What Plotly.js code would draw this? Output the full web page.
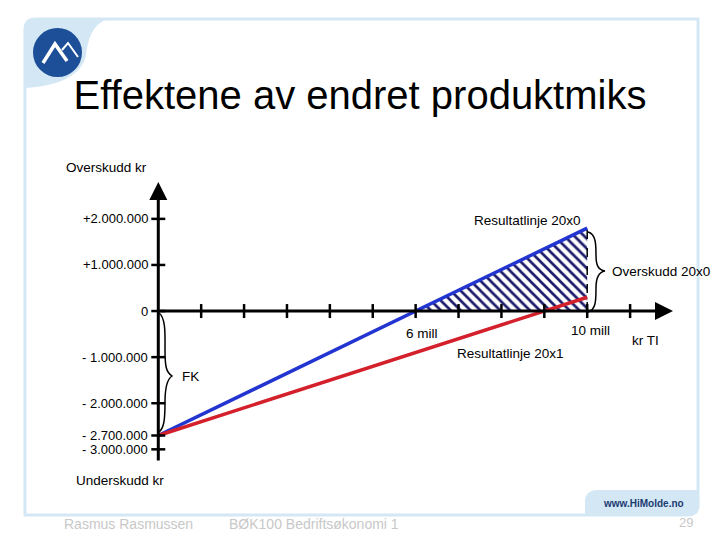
<!DOCTYPE html>
<html>
<head>
<meta charset="utf-8">
<script src="https://cdn.plot.ly/plotly-3.0.1.min.js"></script>
<style>
html,body{margin:0;padding:0;background:#fff;}
#chart{width:720px;height:540px;}
</style>
</head>
<body>
<div id="chart"></div>
<script>
// ---- data ----
const tiMill = [0, 10];                 // total revenue (mill kr)
const blueResult = [-2.7, 1.8];         // Resultatlinje 20x0 (mill kr)
const redResult = [-2.7, 0.3];          // Resultatlinje 20x1 (mill kr)
const breakEven20x0 = 6;                // mill kr
const xTickVals = [1,2,3,4,5,6,7,8,9,10,11];
const yTickVals = [2, 1, 0, -1, -2, -2.7, -3];
const yTickText = ['+2.000.000', '+1.000.000', '0', '- 1.000.000', '- 2.000.000', '- 2.700.000', '- 3.000.000'];
const xLabelVals = [6, 10];
const xLabelText = ['6 mill', '10 mill'];

// ---- geometry helpers (layout only) ----
const L = 154, R = 673, T = 182, B = 462;
const XR = [-0.1, 12], YR = [-3.275, 2.8];
const px2x = p => XR[0] + (p - L) / (R - L) * (XR[1] - XR[0]);
const px2y = p => YR[1] - (p - T) / (B - T) * (YR[1] - YR[0]);
const pX = p => (p - L) / (R - L);
const pY = p => (B - p) / (B - T);
function pp(cmds){ // pixel path -> paper path
  return cmds.map(c => {
    const out=[c[0]];
    for(let i=1;i<c.length;i+=2){ out.push(pX(c[i]).toFixed(4)+','+pY(c[i+1]).toFixed(4)); }
    return out.join(' ');
  }).join(' ') ;
}
function pd(cmds){ // pixel path -> data path
  return cmds.map(c => {
    const out=[c[0]];
    for(let i=1;i<c.length;i+=2){ out.push(px2x(c[i]).toFixed(4)+','+px2y(c[i+1]).toFixed(4)); }
    return out.join(' ');
  }).join(' ');
}

const font = 'Liberation Sans, Arial, sans-serif';
const blueAt10 = blueResult[1];

const traces = [
  { // hatched surplus area
    x: [breakEven20x0, tiMill[1], tiMill[1]],
    y: [0, blueAt10, 0],
    mode: 'lines', fill: 'toself', line: {width: 0, color: 'rgba(0,0,0,0)'},
    fillcolor: 'white',
    fillpattern: {shape: '\\', fgcolor: '#1d1b6b', bgcolor: 'white', size: 7, solidity: 0.38},
    hoverinfo: 'skip', showlegend: false
  },
  { // dashed vertical at 10 mill
    x: [tiMill[1], tiMill[1]], y: [0, blueAt10],
    mode: 'lines', line: {color: '#000', width: 1.5, dash: 'dash'},
    hoverinfo: 'skip', showlegend: false
  },
  {
    x: tiMill, y: blueResult, mode: 'lines',
    line: {color: '#2335d0', width: 3.5}, showlegend: false, cliponaxis: false
  },
  {
    x: tiMill, y: redResult, mode: 'lines',
    line: {color: '#d3202b', width: 3.5}, showlegend: false, cliponaxis: false
  },
  { // x tick marks
    x: xTickVals, y: xTickVals.map(() => 0), mode: 'markers',
    marker: {symbol: 'line-ns', size: 10, line: {width: 2.5, color: '#000'}},
    hoverinfo: 'skip', showlegend: false, cliponaxis: false
  },
  { // y tick marks
    x: yTickVals.map(() => 0), y: yTickVals, mode: 'markers',
    marker: {symbol: 'line-ew', size: 10, line: {width: 2.5, color: '#000'}},
    hoverinfo: 'skip', showlegend: false, cliponaxis: false
  }
];

const frameColor = '#d3e8f4';
const shapes = [
  { // slide frame
    type: 'path', xref: 'paper', yref: 'paper',
    path: pp([['M',25,30],['Q',25,19,36,19],['L',698,19],['L',698,505],['Q',698,515,688,515],['L',25,515],['Z']]),
    line: {color: frameColor, width: 3}, fillcolor: 'rgba(0,0,0,0)', layer: 'below'
  },
  { // top-left swoosh
    type: 'path', xref: 'paper', yref: 'paper',
    path: pp([['M',25,30],['Q',25,19,36,19],['L',108,19],['C',92,24,88,40,86,55],['C',82,75,60,86,25,88],['Z']]),
    line: {width: 0}, fillcolor: frameColor, layer: 'below'
  },
  { // bottom-right tab
    type: 'path', xref: 'paper', yref: 'paper',
    path: pp([['M',585,515],['L',585,502],['Q',585,490,598,490],['L',698,490],['L',698,505],['Q',698,515,688,515],['Z']]),
    line: {width: 0}, fillcolor: frameColor, layer: 'below'
  },
  { // logo circle
    type: 'circle', xref: 'paper', yref: 'paper',
    x0: pX(33), x1: pX(82), y0: pY(77), y1: pY(28),
    line: {width: 0}, fillcolor: '#1d4e98', layer: 'above'
  },
  { // logo mountain
    type: 'path', xref: 'paper', yref: 'paper',
    path: pp([['M',43,63],['L',55,44],['L',67,61]]),
    line: {color: 'white', width: 3.5}, layer: 'above'
  },
  {
    type: 'path', xref: 'paper', yref: 'paper',
    path: pp([['M',62,50],['L',68,43],['L',78,57]]),
    line: {color: 'white', width: 2}, layer: 'above'
  },
  { // FK brace
    type: 'path', xref: 'x', yref: 'y',
    path: pd([['M',159,313],['C',166,318,165,335,165,350],['C',165,366,166,372,172,376],['C',166,380,165,390,165,402],['C',165,420,164,428,159,432]]),
    line: {color: '#000', width: 1.5}
  },
  { // Overskudd brace
    type: 'path', xref: 'x', yref: 'y',
    path: pd([['M',588,232],['C',596,234,596,245,596,255],['C',596,265,598,270,605,271],['C',598,272,596,278,596,288],['C',596,300,596,310,588,312]]),
    line: {color: '#000', width: 1.5}
  }
];

const ann = [];
// axes with arrows
ann.push({x: 12, y: 0, ax: 0, ay: 0, xref: 'x', yref: 'y', axref: 'x', ayref: 'y',
  text: '', showarrow: true, arrowhead: 2, arrowsize: 1.2, arrowwidth: 3, arrowcolor: '#000', standoff: 0});
ann.push({x: 0, y: YR[1], ax: 0, ay: YR[0], xref: 'x', yref: 'y', axref: 'x', ayref: 'y',
  text: '', showarrow: true, arrowhead: 2, arrowsize: 1.2, arrowwidth: 3, arrowcolor: '#000', standoff: 0});
// y tick labels
yTickVals.forEach((v, i) => ann.push({x: pX(150), y: v, xref: 'paper', yref: 'y', text: yTickText[i],
  showarrow: false, xanchor: 'right', yanchor: 'middle', font: {family: font, size: 13, color: '#000'}}));
// x labels
ann.push({x: xLabelVals[0], y: 0, xref: 'x', yref: 'y', text: xLabelText[0], showarrow: false,
  xanchor: 'center', yanchor: 'middle', xshift: 6, yshift: -22, font: {family: font, size: 13.5, color: '#000'}});
ann.push({x: xLabelVals[1], y: 0, xref: 'x', yref: 'y', text: xLabelText[1], showarrow: false,
  xanchor: 'center', yanchor: 'middle', xshift: 3, yshift: -19, font: {family: font, size: 13.5, color: '#000'}});
const txt = (t, x, y, anchor, size, color, extra) => Object.assign({
  x: pX(x), y: pY(y), xref: 'paper', yref: 'paper', text: t, showarrow: false,
  xanchor: anchor, yanchor: 'middle', font: {family: font, size: size, color: color}}, extra || {});
ann.push(txt('kr TI', 645, 340, 'center', 13.5, '#000'));
ann.push(txt('Overskudd kr', 106, 167, 'center', 13.5, '#000'));
ann.push(txt('Underskudd kr', 120, 480, 'center', 13.5, '#000'));
ann.push(txt('Resultatlinje 20x0', 527, 220, 'center', 13.5, '#000'));
ann.push(txt('Resultatlinje 20x1', 510, 353, 'center', 13.5, '#000'));
ann.push(txt('Overskudd 20x0', 610, 271, 'left', 13.5, '#000'));
ann.push(txt('FK', 180, 376, 'left', 13.5, '#000'));
ann.push(txt('<b>www.HiMolde.no</b>', 643, 503, 'center', 10, '#1c3a72'));
ann.push(txt('Rasmus Rasmussen', 62, 524, 'left', 14, '#c8c8c8'));
ann.push(txt('BØK100 Bedriftsøkonomi 1', 227, 524, 'left', 14, '#c8c8c8'));
ann.push(txt('29', 695, 522, 'right', 13, '#c8c8c8'));

const layout = {
  width: 720, height: 540,
  margin: {l: L, r: 720 - R, t: T, b: 540 - B, pad: 0},
  paper_bgcolor: '#fff', plot_bgcolor: 'rgba(0,0,0,0)',
  title: {text: 'Effektene av endret produktmiks', font: {family: font, size: 40, color: '#000'},
    x: 0.5, xref: 'container', y: 1 - 95 / 540, yref: 'container', xanchor: 'center', yanchor: 'middle'},
  xaxis: {range: XR, showgrid: false, zeroline: false, showline: false, showticklabels: false, ticks: '', fixedrange: true},
  yaxis: {range: YR, showgrid: false, zeroline: false, showline: false, showticklabels: false, ticks: '', fixedrange: true},
  shapes: shapes,
  annotations: ann,
  showlegend: false
};

Plotly.newPlot('chart', traces, layout, {displayModeBar: false, staticPlot: true});
</script>
</body>
</html>
